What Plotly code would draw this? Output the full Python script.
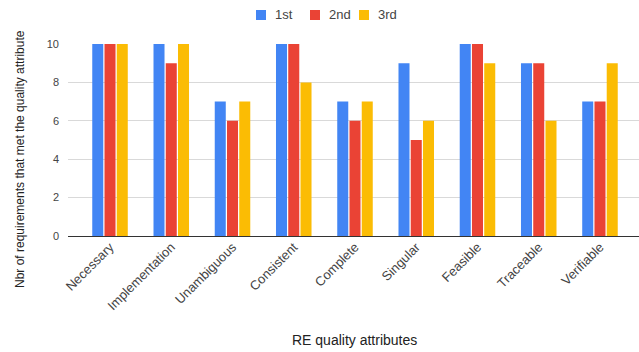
import plotly.graph_objects as go

categories = ["Necessary", "Implementation", "Unambiguous", "Consistent", "Complete",
              "Singular", "Feasible", "Traceable", "Verifiable"]
first = [10, 10, 7, 10, 7, 9, 10, 9, 7]
second = [10, 9, 6, 10, 6, 5, 10, 9, 7]
third = [10, 10, 7, 8, 7, 6, 9, 6, 9]
series_names = ["1st", "2nd", "3rd"]
colors = ["#4285F4", "#EA4335", "#FBBC04"]
y_ticks = [0, 2, 4, 6, 8, 10]

FONT = "Liberation Sans, Arial, sans-serif"

fig = go.Figure()
for name, vals, col in zip(series_names, [first, second, third], colors):
    fig.add_trace(go.Bar(name=name, x=categories, y=vals, marker_color=col,
                         marker_line_width=0, showlegend=False))

W, H = 639, 352
left, right, top, bottom = 68, 0, 44, 116
pw = W - left - right
ph = H - top - bottom


def px_x(x):
    return (x - left) / pw


def px_y(y):
    return (H - bottom - y) / ph


# top legend: a small square swatch followed by the series name
legend_x = [256, 310, 359]
legend_y = 15
shapes = []
annotations = []
for name, col, lx in zip(series_names, colors, legend_x):
    shapes.append(dict(type="rect", xref="paper", yref="paper",
                       x0=px_x(lx), x1=px_x(lx + 10),
                       y0=px_y(legend_y + 5), y1=px_y(legend_y - 5),
                       fillcolor=col, line=dict(width=0)))
    annotations.append(dict(text=name, x=px_x(lx + 17), y=px_y(legend_y),
                            xref="paper", yref="paper", xanchor="left", yanchor="middle",
                            showarrow=False,
                            font=dict(family=FONT, size=13, color="#444444")))

annotations += [
    dict(text="RE quality attributes", x=px_x(354), y=px_y(340),
         xref="paper", yref="paper", xanchor="center", yanchor="middle",
         showarrow=False, font=dict(family=FONT, size=14, color="#222222")),
    dict(text="Nbr of requirements that met the quality attribute", textangle=-90,
         x=px_x(20), y=px_y(159), xref="paper", yref="paper",
         xanchor="center", yanchor="middle",
         showarrow=False, font=dict(family=FONT, size=12, color="#222222")),
]

fig.update_layout(
    width=W, height=H,
    margin=dict(l=left, r=right, t=top, b=bottom),
    paper_bgcolor="white", plot_bgcolor="white",
    font=dict(family=FONT, size=11, color="#444444"),
    barmode="group", bargap=0.4, bargroupgap=0.1,
    showlegend=False,
    xaxis=dict(tickangle=-45, range=[-0.686, 8.637], showgrid=False,
               ticks="", tickfont=dict(family=FONT, size=13, color="#444444"),
               showline=False),
    yaxis=dict(range=[0, 10], tickvals=y_ticks, showgrid=True, gridcolor="#d9d9d9",
               gridwidth=1, zeroline=True, zerolinecolor="#333333", zerolinewidth=1,
               ticks="", tickfont=dict(family=FONT, size=11, color="#444444"),
               ticklabelstandoff=8),
    shapes=shapes,
    annotations=annotations,
)

fig.write_html("out.html")
